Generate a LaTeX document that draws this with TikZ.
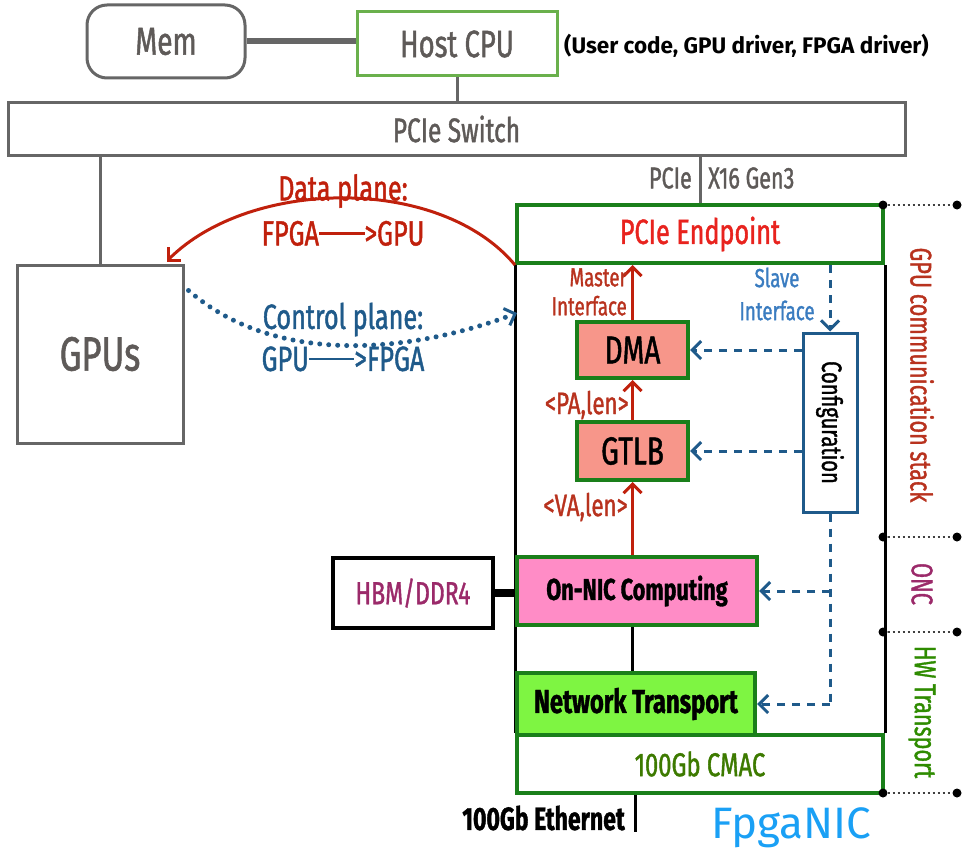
\documentclass[tikz,border=0pt]{standalone}
\usepackage{fontspec}
\setmainfont{Fira Sans}[FakeStretch=0.72,FakeBold=1.2]
\newfontfamily\wide{Fira Sans}
\usetikzlibrary{arrows.meta,calc}
\definecolor{gry}{HTML}{666666}
\definecolor{gtxt}{HTML}{5E5A58}
\definecolor{lgreen}{HTML}{6AB04C}
\definecolor{dgreen}{HTML}{1A7F1A}
\definecolor{epred}{HTML}{E8231E}
\definecolor{dred}{HTML}{C0200C}
\definecolor{bred}{HTML}{B8321E}
\definecolor{dblue}{HTML}{1F5A8A}
\definecolor{sblue}{HTML}{3A7CC0}
\definecolor{salmon}{HTML}{F7968A}
\definecolor{pinkf}{HTML}{FF8CC6}
\definecolor{limef}{HTML}{7EF542}
\definecolor{purp}{HTML}{9B2A6A}
\definecolor{hwg}{HTML}{2E8B00}
\definecolor{cmacg}{HTML}{3D7A00}
\definecolor{nicblue}{HTML}{1AA0F5}
\begin{document}
\begin{tikzpicture}[x=1pt,y=-1pt,
  box/.style={draw, rectangle, inner sep=0pt, align=center},
  graybox/.style={box, draw=gry, line width=3pt, text=gtxt},
  gbox/.style={box, draw=dgreen, line width=4pt},
  redarr/.style={draw=dred, line width=3pt, -{Straight Barb[length=9pt,width=18pt,line width=3pt]}},
  bluedash/.style={draw=dblue, line width=3pt, dash pattern=on 8pt off 7pt, -{Straight Barb[length=9pt,width=18pt,line width=3pt]}},
  bluedashline/.style={draw=dblue, line width=3pt, dash pattern=on 8pt off 7pt},
  sideline/.style={draw=black, line width=3pt},
  dotline/.style={draw=black!75, line width=2pt, dash pattern=on 2pt off 3pt},
  enddot/.style={fill=black, circle, inner sep=0pt, minimum size=9pt},
  lab/.style={inner sep=0pt}]
\useasboundingbox (0,0) rectangle (963,856);

% top row
\node[graybox, rounded corners=20pt, minimum width=158pt, minimum height=73pt, font=\fontsize{39}{41}\selectfont] (mem) at (166,41.5) {Mem};
\node[box, draw=lgreen, line width=3pt, text=gtxt, minimum width=200pt, minimum height=64pt, font=\fontsize{38}{40}\selectfont] (host) at (457,44) {Host CPU};
\node[lab, anchor=west, font=\wide\bfseries\fontsize{22.5}{25}\selectfont] (hostnote) at (564,46) {(User code, GPU driver, FPGA driver)};
\draw[gry, line width=6pt] (mem.east) -- (mem.east -| host.west);

\node[graybox, minimum width=897pt, minimum height=52pt, font=\fontsize{34}{36}\selectfont] (switch) at (456.5,129) {PCIe Switch};
\draw[gry, line width=3pt] (host.south) -- (host.south |- switch.north);

\node[graybox, minimum width=166pt, minimum height=178pt, font=\fontsize{48}{50}\selectfont] (gpus) at (100,354) {GPUs};
\draw[gry, line width=3pt] (gpus.north) -- (gpus.north |- switch.south);

% FPGA
\node[gbox, minimum width=366pt, minimum height=58pt, text=epred, font=\fontsize{35}{37}\selectfont] (ep) at (700,234) {PCIe Endpoint};
\draw[gry, line width=3pt] (ep.north) -- (ep.north |- switch.south);
\node[lab, anchor=east, text=gtxt, font=\fontsize{30}{32}\selectfont] (pcie) at (692,178) {PCIe};
\node[lab, anchor=west, text=gtxt, font=\fontsize{30}{32}\selectfont] (x16) at (708,178) {X16 Gen3};

\node[gbox, minimum width=366pt, minimum height=58pt, text=cmacg, font=\fontsize{33}{35}\selectfont] (cmac) at (700,764) {100Gb CMAC};
\draw[sideline] (ep.south west) -- (cmac.north west);
\draw[sideline] (ep.south east) -- (cmac.north east);

\node[gbox, fill=salmon, minimum width=111pt, minimum height=56pt, font=\fontsize{39}{41}\selectfont] (dma) at (632.5,350) {DMA};
\node[gbox, fill=salmon, minimum width=111pt, minimum height=58pt, font=\fontsize{39}{41}\selectfont] (gtlb) at (632.5,451) {GTLB};
\node[box, draw=dblue, line width=3pt, fill=white, minimum width=54pt, minimum height=179pt] (config) at (830,422.5) {};
\node[lab, rotate=-90, font=\fontsize{28}{30}\selectfont] (configtxt) at (config.center) {Configuration};

\node[gbox, fill=pinkf, minimum width=240pt, minimum height=68pt, font=\fontsize{30}{32}\selectfont\bfseries] (onnic) at (637,591) {On-NIC Computing};
\node[gbox, fill=limef, minimum width=238pt, minimum height=62pt, font=\fontsize{33}{35}\selectfont\bfseries] (nt) at (636,704) {Network Transport};
\node[box, draw=black, line width=4pt, text=purp, minimum width=160pt, minimum height=70pt, font=\fontsize{32}{34}\selectfont] (hbm) at (413,593) {HBM/DDR4};
\draw[black, line width=8pt] (hbm.east) -- (hbm.east -| onnic.west);
\draw[sideline] (dma.south |- onnic.south) -- (dma.south |- nt.north);

% red data path
\draw[redarr] (dma.north) -- (dma.north |- ep.south);
\draw[redarr] (gtlb.north) -- (dma.south);
\draw[redarr] (gtlb.south |- onnic.north) -- (gtlb.south);
\node[lab, text=bred, align=right, anchor=east, font=\fontsize{26}{29}\selectfont] (master) at (627,292) {Master\\Interface};
\node[lab, text=bred, anchor=east, font=\fontsize{31}{33}\selectfont] (pa) at (629,405) {<PA,len>};
\node[lab, text=bred, anchor=east, font=\fontsize{31}{33}\selectfont] (va) at (628,507) {<VA,len>};

% blue control path
\node[lab, text=sblue, align=center, font=\fontsize{26}{33}\selectfont] (slave) at (777,294) {Slave\\Interface};
\draw[bluedash] (config.north |- ep.south) -- (config.north);
\draw[bluedash] (dma.east -| config.west) -- (dma.east);
\draw[bluedash] (gtlb.east -| config.west) -- (gtlb.east);
\draw[bluedashline] (config.south) -- (config.south |- nt.east);
\draw[bluedash] (config.south |- onnic.east) -- (onnic.east);
\draw[bluedash] (config.south |- nt.east) -- (nt.east);

% ethernet
\coordinate (eth) at (635,832);
\draw[sideline] (cmac.south -| eth) -- (eth);
\node[lab, anchor=east, font=\fontsize{32}{34}\selectfont\bfseries] (ethtxt) at (625,818) {100Gb Ethernet};
\node[lab, text=nicblue, font=\wide\fontsize{44}{46}\selectfont] (fpganic) at (791,828) {FpgaNIC};

% right side markers
\foreach \yy/\nm in {205/a,537/b,632/c,793/d}{
  \node[enddot] (l\nm) at (883,\yy) {};
  \node[enddot] (r\nm) at (957,\yy) {};
  \draw[dotline] (l\nm) -- (r\nm);
}
\node[lab, rotate=-90, text=bred, font=\fontsize{30}{32}\selectfont] (gcs) at (922,375) {GPU communication stack};
\node[lab, rotate=-90, text=purp, font=\fontsize{30}{32}\selectfont] (onc) at (922,584) {ONC};
\node[lab, rotate=-90, text=hwg, font=\fontsize{30}{32}\selectfont] (hwt) at (922,712) {HW Transport};

% data / control plane curves
\coordinate (cpend) at (517,313);
\draw[draw=dred, line width=3pt, -{Straight Barb[length=9pt,width=18pt,line width=3pt]}] (ep.south west) .. controls (440,175) and (250,178) .. ($(gpus.north east)+(-18,-2)$);
\node[lab, text=dred, align=center, font=\fontsize{35}{45}\selectfont] (dp) at (343,210) {Data plane:\\FPGA\rule[0.3em]{1.3em}{0.08em}>GPU};
\draw[draw=dblue, line width=5pt, line cap=round, dash pattern=on 0pt off 9pt, -{Straight Barb[length=9pt,width=18pt,line width=3pt]}] ($(gpus.north east)+(4,27)$) .. controls (280,370) and (420,350) .. (cpend);
\node[lab, text=dblue, align=center, font=\fontsize{35}{42}\selectfont] (cp) at (343,337) {Control plane:\\GPU\rule[0.3em]{1.3em}{0.08em}>FPGA};
\end{tikzpicture}
\end{document}
